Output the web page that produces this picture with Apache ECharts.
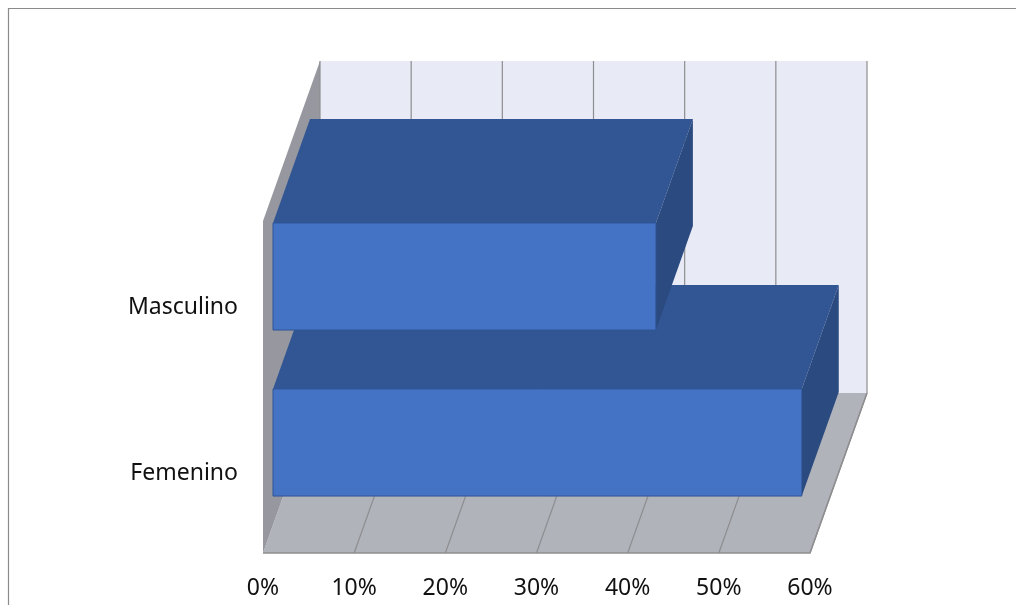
<!DOCTYPE html>
<html>
<head>
<meta charset="utf-8">
<style>
  html, body { margin: 0; padding: 0; background: #fff; }
  #chart { width: 1016px; height: 605px; }
</style>
<script src="https://cdn.jsdelivr.net/npm/echarts@6/dist/echarts.min.js"></script>
</head>
<body>
<div id="chart"></div>
<script>
const categories = ['Femenino', 'Masculino'];
const shares = [58, 42];
const tickValues = [0, 10, 20, 30, 40, 50, 60];

// Pseudo-3D projection, in pixels
const ROOM_DEPTH = [57, -160];
const BAR_DEPTH = [37, -104];
const BAR_INSET = 10;
const BAR_LIFT = 27.5;
const BAR_HEIGHT_RATIO = 0.645;

const COLORS = {
  wall: '#E8EAF5',
  floor: '#B0B3BA',
  side: '#97989F',
  grid: '#8E8E90',
  front: '#4472C4',
  top: '#325693',
  end: '#2A4A80',
  edge: '#2F5597',
  frame: '#8A8A8A',
  text: '#111111'
};

const shift = (p, d) => [p[0] + d[0], p[1] + d[1]];

function poly(points, fill, stroke) {
  return {
    type: 'polygon',
    shape: { points },
    style: { fill, stroke: stroke || fill, lineWidth: stroke ? 1 : 0 }
  };
}

// Back wall, side wall and floor of the box
function renderRoom(params, api) {
  const maxV = tickValues[tickValues.length - 1];
  const bandH = api.size([0, 1])[1];
  const c0 = api.coord([0, 0]);
  const bottom = c0[1] + bandH / 2;
  const top = bottom - bandH * categories.length;
  const fl = [c0[0], bottom];
  const fr = [api.coord([maxV, 0])[0], bottom];
  const tl = [c0[0], top];
  const bl2 = shift(fl, ROOM_DEPTH);
  const br2 = shift(fr, ROOM_DEPTH);
  const wallTop = shift(tl, ROOM_DEPTH);
  const wallTopR = [br2[0], wallTop[1]];
  return {
    type: 'group',
    children: [
      poly([wallTop, wallTopR, br2, bl2], COLORS.wall),
      poly([fl, fr, br2, bl2], COLORS.floor),
      poly([tl, wallTop, bl2, fl], COLORS.side),
      {
        type: 'polyline',
        shape: { points: [fl, fr, br2] },
        style: { fill: 'none', stroke: COLORS.grid, lineWidth: 1.5 }
      }
    ]
  };
}

// One gridline across the floor and up the back wall
function renderGrid(params, api) {
  const bandH = api.size([0, 1])[1];
  const c = api.coord([api.value(0), 0]);
  const bottom = c[1] + bandH / 2;
  const top = bottom - bandH * categories.length;
  const a = [c[0], bottom];
  const b = shift(a, ROOM_DEPTH);
  const t = [b[0], top + ROOM_DEPTH[1]];
  const v = api.value(0);
  return {
    type: 'polyline',
    shape: { points: v === 0 ? [b, t] : [a, b, t] },
    style: { fill: 'none', stroke: COLORS.grid, lineWidth: 1.2 }
  };
}

// A horizontal 3D bar: end face, top face and front face
function renderBar(params, api) {
  const idx = api.value(0);
  const val = api.value(1);
  const bandH = api.size([0, 1])[1];
  const start = api.coord([0, idx]);
  const end = api.coord([val, idx]);
  const h = bandH * BAR_HEIGHT_RATIO;
  const yTop = start[1] - BAR_LIFT - h / 2;
  const yBot = yTop + h;
  const x0 = start[0] + BAR_INSET;
  const x1 = end[0] + BAR_INSET;
  const ftl = [x0, yTop];
  const ftr = [x1, yTop];
  const fbr = [x1, yBot];
  const fbl = [x0, yBot];
  return {
    type: 'group',
    children: [
      poly([ftl, ftr, shift(ftr, BAR_DEPTH), shift(ftl, BAR_DEPTH)], COLORS.top),
      poly([ftr, shift(ftr, BAR_DEPTH), shift(fbr, BAR_DEPTH), fbr], COLORS.end),
      poly([ftl, ftr, fbr, fbl], COLORS.front, COLORS.edge)
    ]
  };
}

const chart = echarts.init(document.getElementById('chart'), null, { renderer: 'canvas' });
chart.setOption({
  animation: false,
  backgroundColor: '#ffffff',
  grid: { left: 263, width: 547, top: 221, height: 332, containLabel: false },
  xAxis: {
    type: 'value',
    min: 0,
    max: 60,
    interval: 10,
    axisLine: { show: false },
    axisTick: { show: false },
    splitLine: { show: false },
    axisLabel: {
      formatter: '{value}%',
      margin: 24,
      fontFamily: 'Noto Sans',
      fontSize: 23,
      color: COLORS.text,
      hideOverlap: false
    }
  },
  yAxis: {
    type: 'category',
    data: categories,
    axisLine: { show: false },
    axisTick: { show: false },
    splitLine: { show: false },
    axisLabel: {
      margin: 25,
      formatter: '{name|{value}}',
      rich: {
        name: {
          fontFamily: 'Noto Sans',
          fontSize: 23,
          color: COLORS.text,
          padding: [7, 0, 0, 0]
        }
      }
    }
  },
  graphic: [{
    type: 'polyline',
    silent: true,
    shape: { points: [[8.5, 610], [8.5, 8.5], [1020, 8.5]] },
    style: { fill: 'none', stroke: COLORS.frame, lineWidth: 1.2 }
  }],
  series: [
    {
      type: 'custom',
      coordinateSystem: 'cartesian2d',
      renderItem: renderRoom,
      data: [[0, 0]],
      z: 1,
      silent: true,
      clip: false
    },
    {
      type: 'custom',
      coordinateSystem: 'cartesian2d',
      renderItem: renderGrid,
      data: tickValues.map(v => [v, 0]),
      encode: { x: 0, y: 1 },
      z: 2,
      silent: true,
      clip: false
    },
    {
      type: 'custom',
      coordinateSystem: 'cartesian2d',
      renderItem: renderBar,
      data: shares.map((v, i) => [i, v]),
      encode: { x: 1, y: 0 },
      z: 3,
      clip: false
    }
  ]
});
</script>
</body>
</html>
